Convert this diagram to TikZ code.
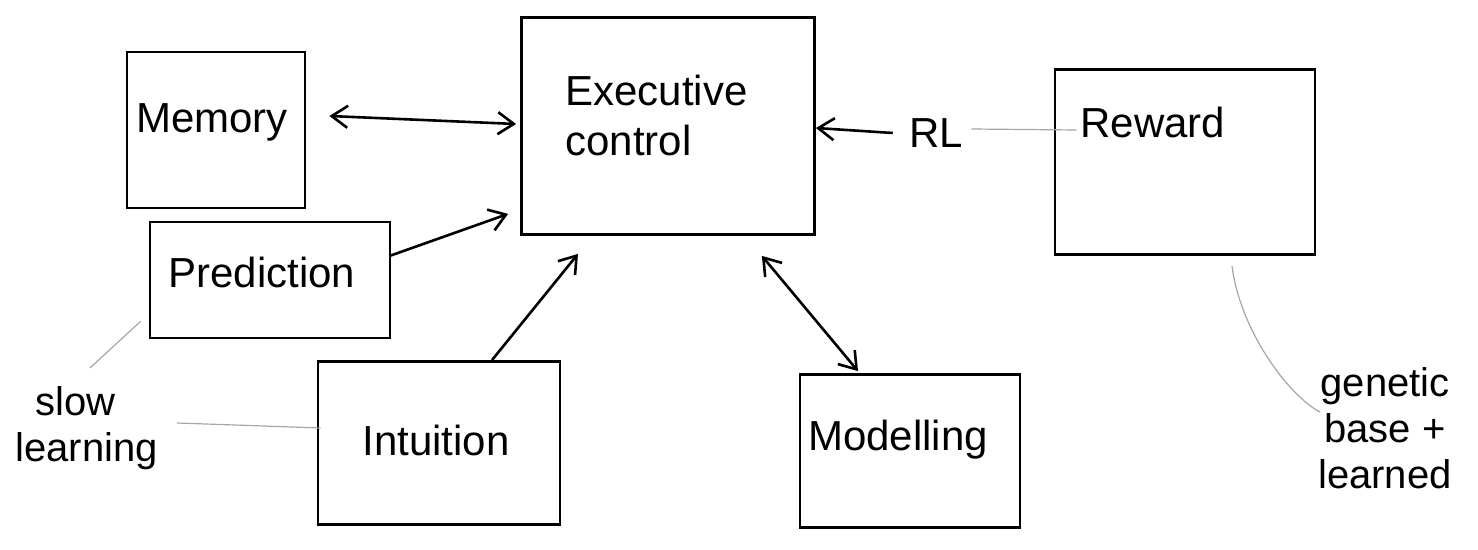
\documentclass[tikz,border=0pt]{standalone}
\usepackage{fontspec}
\setmainfont{Liberation Sans}
\usetikzlibrary{arrows.meta}
\begin{document}
\begin{tikzpicture}[x=0.5pt,y=-0.5pt,
  box/.style={draw, line width=1.4pt, inner sep=0pt},
  lbl/.style={font=\fontsize{21}{25}\selectfont, inner sep=0pt, align=left},
  note/.style={font=\fontsize{20}{23}\selectfont, inner sep=0pt, align=center},
  conn/.style={line width=1.3pt, -{Straight Barb[length=8pt,width=11pt]}},
  biconn/.style={line width=1.3pt, {Straight Barb[length=8pt,width=11pt]}-{Straight Barb[length=8pt,width=11pt]}},
  faint/.style={line width=0.6pt, gray!70}]
\useasboundingbox (0,0) rectangle (1478,550);

% boxes
\node[box, minimum width=89pt, minimum height=78pt] (mem) at (216,130) {};
\node[box, minimum width=146.5pt, minimum height=108.5pt] (exec) at (668,126) {};
\node[box, minimum width=130pt, minimum height=92.5pt] (rew) at (1185,162) {};
\node[box, minimum width=120pt, minimum height=58pt] (pred) at (270,280) {};
\node[box, minimum width=121pt, minimum height=81.5pt] (intu) at (439,443) {};
\node[box, minimum width=110pt, minimum height=76.5pt] (mod) at (910,451) {};

% box texts
\node[lbl] (memt) at (212,122) {Memory};
\node[lbl, anchor=west] (exect) at (565,115) {Executive\\control};
\node[lbl, anchor=west] (rewt) at (1080,122) {Reward};
\node[lbl] (predt) at (262,272) {Prediction};
\node[lbl] (intut) at (436,440) {Intuition};
\node[lbl] (modt) at (898,440) {Modelling};

% side notes
\node[lbl] (rl) at (936,133) {RL};
\node[note, anchor=west, align=left] (slow) at (15,428) {\hspace*{10pt}slow\\learning};
\node[note] (gen) at (1385,428) {genetic\\base +\\learned};

% connectors
\draw[biconn] ([xshift=11.5pt,yshift=7pt]mem.east) -- ([xshift=-2pt,yshift=1pt]exec.west);
\draw[conn] ([xshift=-1pt,yshift=12pt]pred.east) -- ([xshift=-6pt,yshift=11pt]exec.south west);
\draw[conn] ([xshift=26.5pt]intu.north) -- ([xshift=-45pt,yshift=-9pt]exec.south);
\draw[biconn] ([xshift=-27pt,yshift=-10pt]exec.south east) -- ([xshift=-26pt,yshift=1pt]mod.north);
\draw[conn] ([xshift=-8pt]rl.west) -- ([yshift=-1pt]exec.east);
\draw[faint] ([xshift=4pt,yshift=2pt]rl.east) -- ([xshift=11.5pt,yshift=16pt]rew.west);
\draw[faint] ([xshift=-4pt,yshift=9pt]pred.south west) -- ([xshift=37.5pt,yshift=9pt]slow.north west);
\draw[faint] ([xshift=2pt,yshift=7.5pt]intu.west) -- ([xshift=81pt,yshift=2.5pt]slow.west);
\draw[faint] ([xshift=23.5pt,yshift=-5pt]rew.south) .. controls +(4pt,-32pt) and +(-16pt,8.5pt) .. ([xshift=1pt,yshift=8pt]gen.west);
\end{tikzpicture}
\end{document}
